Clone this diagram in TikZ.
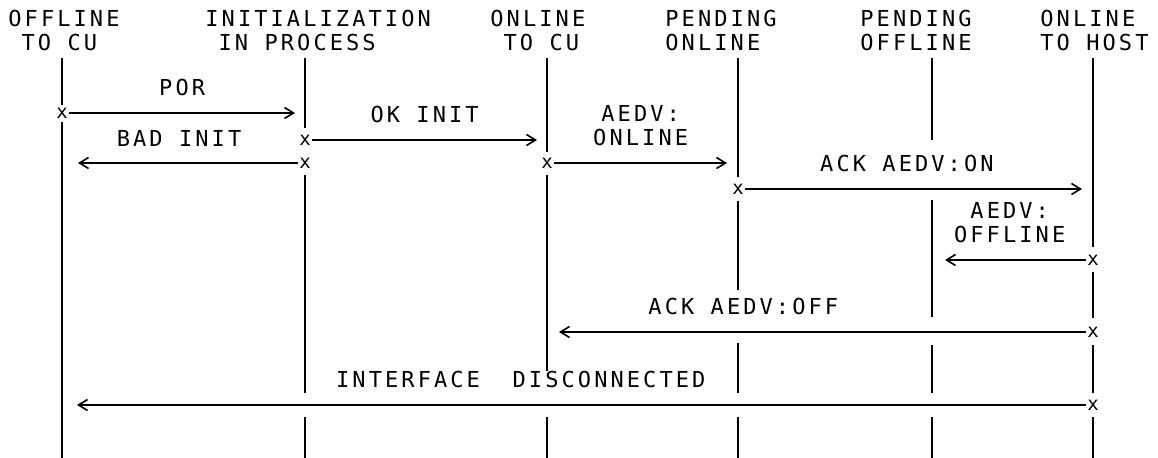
\documentclass[tikz,border=0pt]{standalone}
\usepackage{fontspec}
\newfontfamily\plotfont[LetterSpace=14]{DejaVu Sans Mono}
\usepackage{tikz}
\usetikzlibrary{arrows.meta,positioning}
\newcommand\plotfnt{\plotfont\fontsize{11}{12}\selectfont}
\tikzset{
  lifeline/.style={line width=1pt},
  msg/.style={line width=0.8pt,-{Straight Barb[length=4.5pt,width=5.5pt]}},
  xmark/.style={font=\plotfont\fontsize{9.5}{10}\selectfont,inner sep=0.6pt},
  lbl/.style={font=\plotfnt,inner sep=0pt,align=center,above=8pt},
  hdr/.style={font=\plotfnt,inner sep=0pt,align=left,anchor=north west},
}
\begin{document}
\begin{tikzpicture}[x=0.5pt,y=-0.5pt]
  \path[use as bounding box,fill=white] (0,0) rectangle (1158,458);
  % etats
  \node[hdr] (offcu)   at (8,10)    {OFFLINE\\\hphantom{X}TO CU};
  \node[hdr] (initpr)  at (205,10)  {INITIALIZATION\\\hphantom{X}IN PROCESS};
  \node[hdr] (oncu)    at (490,10)  {ONLINE\\\hphantom{X}TO CU};
  \node[hdr] (pendon)  at (665,10)  {PENDING\\ONLINE};
  \node[hdr] (pendoff) at (860,10)  {PENDING\\OFFLINE};
  \node[hdr] (onhost)  at (1040,10) {ONLINE\\TO HOST};
  % lignes de vie : x, debut, fin
  \foreach \lx/\ya/\yb in {62/58/105, 62/122/458,
      305/58/128, 305/175/393, 305/417/458,
      547/58/152, 547/175/371, 547/417/458,
      738/58/177, 738/201/290, 738/343/393, 738/417/458,
      932/58/140, 932/200/317, 932/345/393, 932/417/458,
      1093/58/247, 1093/272/318, 1093/345/393, 1093/417/458}
    \draw[lifeline] (\lx,\ya) -- (\lx,\yb);
  % messages
  \node[xmark] (por) at (62,113) {x};
  \coordinate (por-end) at (295,113);
  \draw[msg] (por) -- (por-end) node[lbl,midway] {POR};
  \node[xmark] (okinit) at (305,140) {x};
  \coordinate (okinit-end) at (537,140);
  \draw[msg] (okinit) -- (okinit-end) node[lbl,midway] {OK INIT};
  \node[xmark] (badinit) at (305,163) {x};
  \coordinate (badinit-end) at (78,163);
  \draw[msg] (badinit) -- (badinit-end) node[lbl,pos=0.54] {BAD INIT};
  \node[xmark] (aedvon) at (547,163) {x};
  \coordinate (aedvon-end) at (727,163);
  \draw[msg] (aedvon) -- (aedvon-end) node[lbl,midway] {AEDV:\\ONLINE};
  \node[xmark] (ackon) at (738,189) {x};
  \coordinate (ackon-end) at (1082,189);
  \draw[msg] (ackon) -- (ackon-end) node[lbl,pos=0.48] {ACK AEDV:ON};
  \node[xmark] (aedvoff) at (1093,260) {x};
  \coordinate (aedvoff-end) at (945,260);
  \draw[msg] (aedvoff) -- (aedvoff-end) node[lbl,pos=0.54] {AEDV:\\OFFLINE};
  \node[xmark] (ackoff) at (1093,332) {x};
  \coordinate (ackoff-end) at (559,332);
  \draw[msg] (ackoff) -- (ackoff-end) node[lbl,pos=0.65] {ACK AEDV:OFF};
  \node[xmark] (disc) at (1093,405) {x};
  \coordinate (disc-end) at (77,405);
  \draw[msg] (disc) -- (disc-end) node[lbl,pos=0.56] {INTERFACE\ \ DISCONNECTED};
\end{tikzpicture}
\end{document}
